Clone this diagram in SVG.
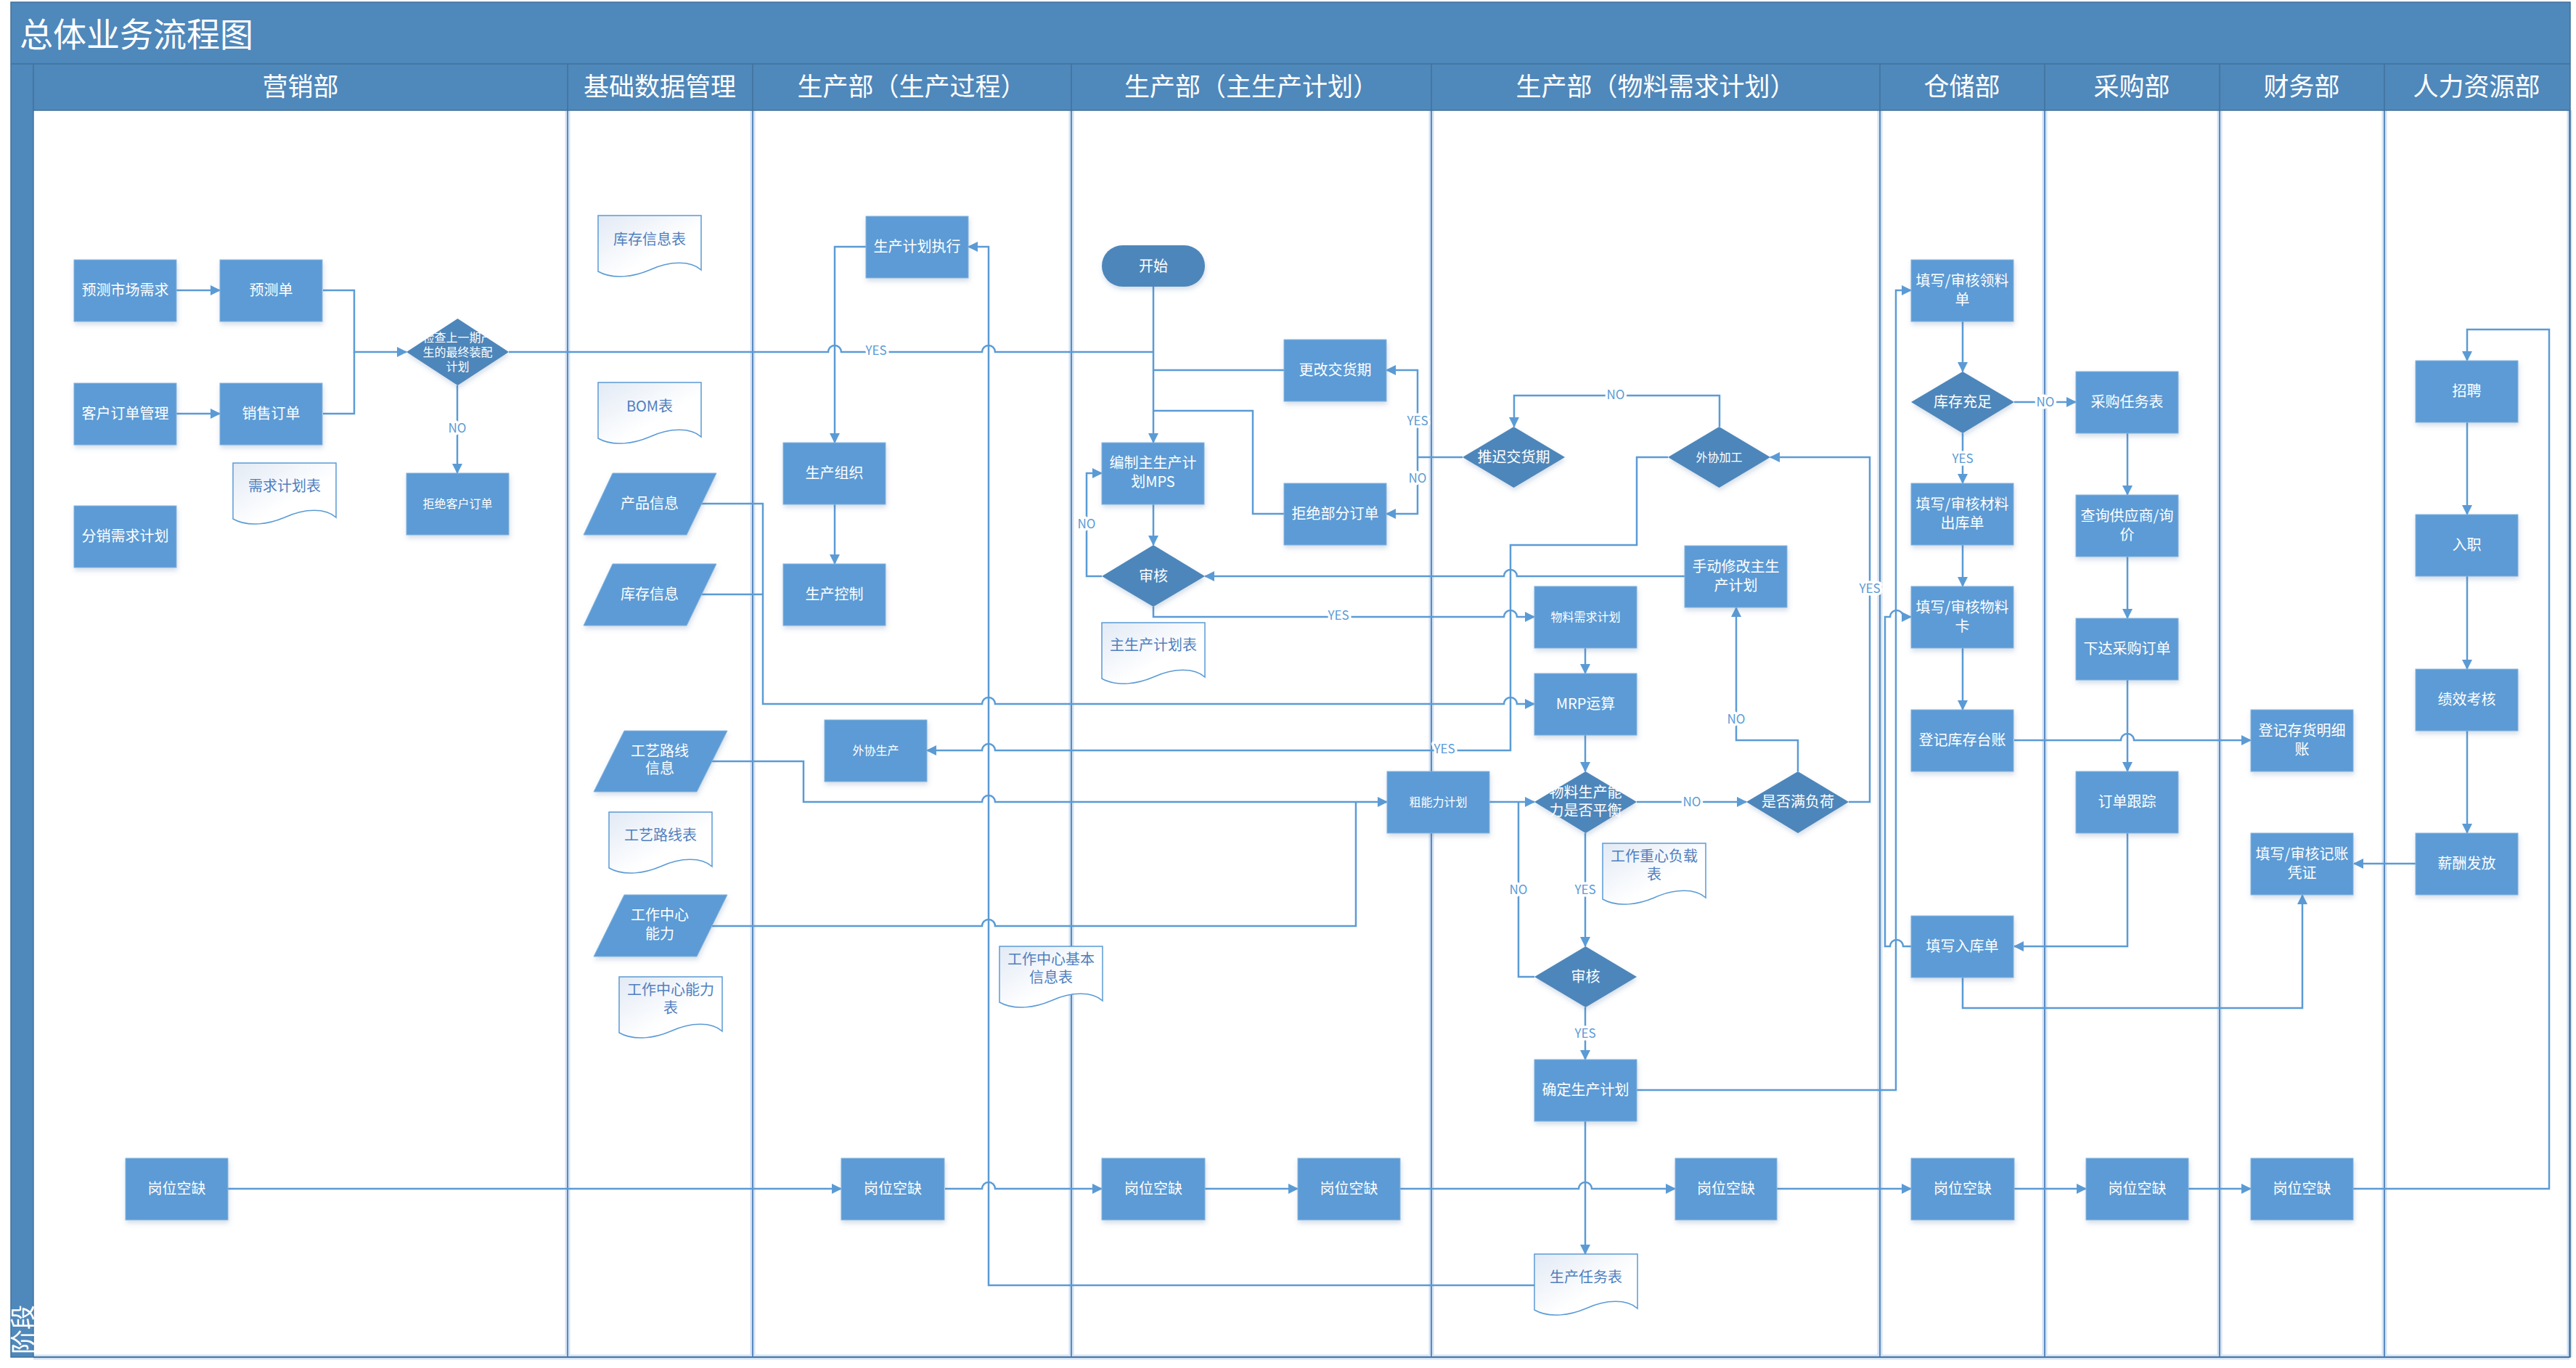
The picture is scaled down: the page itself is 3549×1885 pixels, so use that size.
<svg xmlns="http://www.w3.org/2000/svg" width="3549" height="1885" viewBox="0 0 3549 1885">
<defs>
<marker id="ah" markerUnits="userSpaceOnUse" markerWidth="14" markerHeight="14" refX="13" refY="7" orient="auto"><path d="M0,0 L14,7 L0,14 Z" fill="#5b9bd5"/></marker>
<linearGradient id="dg" x1="0" y1="0" x2="1" y2="1"><stop offset="0" stop-color="#e2eaf5"/><stop offset="0.6" stop-color="#ffffff"/></linearGradient>
<filter id="sh" x="-10%" y="-10%" width="130%" height="140%"><feDropShadow dx="1" dy="4" stdDeviation="3" flood-color="#3d6a9a" flood-opacity="0.22"/></filter>
</defs>
<style>
.n{fill:#5b9bd5;stroke:#86b3de;stroke-width:1;filter:url(#sh)}
.d{fill:#4e86ba;filter:url(#sh)}
.doc{fill:url(#dg);stroke:#5b9bd5;stroke-width:1.5}
.t{font-family:"Noto Sans CJK SC","Noto Sans",sans-serif;font-size:20px;fill:#ffffff;text-anchor:middle}
.s{font-size:16px}
.dt{font-family:"Noto Sans CJK SC","Noto Sans",sans-serif;font-size:20px;fill:#4f7fbf;text-anchor:middle}
.c{fill:none;stroke:#5b9bd5;stroke-width:2.5}
.ca{marker-end:url(#ah)}
.l{font-family:"Noto Sans CJK SC","Noto Sans",sans-serif;font-size:17px;fill:#5b9bd5;text-anchor:middle;stroke:#ffffff;stroke-width:7;paint-order:stroke;stroke-linejoin:round}
.band{fill:#4f88bb}
.hl{stroke:#41719c;stroke-width:1.5;fill:none}
.lane{stroke:#5a8ac2;stroke-width:2;fill:none}
.glow{stroke:#d3e2f2;stroke-width:7;fill:none}
.hd{font-family:"Noto Sans CJK SC","Noto Sans",sans-serif;font-size:35px;fill:#ffffff;text-anchor:middle}
</style>
<rect x="0" y="0" width="3549" height="1885" fill="#ffffff"/>
<g id="swimlanes">
<rect class="band" x="15" y="3" width="3526" height="85"/>
<rect class="band" x="15" y="88" width="3526" height="64"/>
<rect class="band" x="15" y="152" width="31" height="1718"/>
<g class="glow">
<path d="M782,152 V1870 M1037,152 V1870 M1476,152 V1870 M1972,152 V1870 M2590,152 V1870 M2817,152 V1870 M3058,152 V1870 M3285,152 V1870 M3540,152 V1870 M46,1870 H3540"/>
</g>
<g class="lane">
<path d="M782,152 V1870 M1037,152 V1870 M1476,152 V1870 M1972,152 V1870 M2590,152 V1870 M2817,152 V1870 M3058,152 V1870 M3285,152 V1870 M3540,152 V1870 M46,1870 H3540"/>
</g>
<g class="hl">
<rect x="15" y="3" width="3526" height="1867"/>
<path d="M15,88 H3541 M46,152 H3541 M46,88 V1870 M782,88 V152 M1037,88 V152 M1476,88 V152 M1972,88 V152 M2590,88 V152 M2817,88 V152 M3058,88 V152 M3285,88 V152"/>
</g>
<text x="27" y="64" font-family="Noto Sans CJK SC, Noto Sans, sans-serif" font-size="46" fill="#ffffff">总体业务流程图</text>
<text class="hd" x="414" y="132">营销部</text>
<text class="hd" x="909" y="132">基础数据管理</text>
<text class="hd" x="1256" y="132">生产部（生产过程）</text>
<text class="hd" x="1724" y="132">生产部（主生产计划）</text>
<text class="hd" x="2281" y="132">生产部（物料需求计划）</text>
<text class="hd" x="2703" y="132">仓储部</text>
<text class="hd" x="2937" y="132">采购部</text>
<text class="hd" x="3171" y="132">财务部</text>
<text class="hd" x="3412" y="132">人力资源部</text>
<text transform="translate(44,1866) rotate(-90)" font-family="Noto Sans CJK SC, Noto Sans, sans-serif" font-size="34" fill="#ffffff">阶段</text>
</g>
<g id="connectors">
<path class="c ca" d="M243,400 H303"/>
<path class="c ca" d="M243,570 H303"/>
<path class="c ca" d="M445,400 H488 V485 H560"/>
<path class="c" d="M445,570 H488 V485"/>
<path class="c ca" d="M630,531 V652"/>
<path class="c" d="M701,485 H1141 A9,9 0 0 1 1159,485 H1353 A9,9 0 0 1 1371,485 H1589"/>
<path class="c ca" d="M1589,395 V610"/>
<path class="c" d="M1769,510 H1589"/>
<path class="c" d="M1769,708 H1726 V566 H1589"/>
<path class="c" d="M2015,630 H1953"/>
<path class="c ca" d="M1953,630 V510 H1910"/>
<path class="c ca" d="M1953,630 V708 H1910"/>
<path class="c ca" d="M1589,695 V751"/>
<path class="c ca" d="M1518,794 H1497 V652 H1518"/>
<path class="c ca" d="M2321,794 H2090 A9,9 0 0 0 2072,794 H1660"/>
<path class="c ca" d="M1589,836 V850 H2072 A9,9 0 0 1 2090,850 H2114"/>
<path class="c ca" d="M1193,340 H1150 V610"/>
<path class="c ca" d="M1150,695 V777"/>
<path class="c ca" d="M2114,1771 H1362 V340 H1334"/>
<path class="c ca" d="M966,694 H1051 V970 H1353 A9,9 0 0 1 1371,970 H2072 A9,9 0 0 1 2090,970 H2114"/>
<path class="c" d="M966,819 H1051"/>
<path class="c ca" d="M980,1049 H1107 V1105 H1353 A9,9 0 0 1 1371,1105 H1911"/>
<path class="c" d="M980,1276 H1353 A9,9 0 0 1 1371,1276 H1868 V1105"/>
<path class="c ca" d="M2298,630 H2255 V751 H2081 V1034 H1371 A9,9 0 0 0 1353,1034 H1277"/>
<path class="c ca" d="M2369,588 V545 H2086 V588"/>
<path class="c ca" d="M2184,893 V928"/>
<path class="c ca" d="M2184,1013 V1063"/>
<path class="c ca" d="M2052,1105 H2114"/>
<path class="c" d="M2114,1346 H2092 V1105"/>
<path class="c ca" d="M2184,1148 V1304"/>
<path class="c ca" d="M2184,1388 V1460"/>
<path class="c ca" d="M2184,1545 V1728"/>
<path class="c ca" d="M2255,1502 H2612 V400 H2633"/>
<path class="c ca" d="M2255,1105 H2406"/>
<path class="c ca" d="M2477,1063 V1020 H2392 V837"/>
<path class="c ca" d="M2547,1105 H2576 V630 H2439"/>
<path class="c ca" d="M2704,443 V512"/>
<path class="c ca" d="M2775,554 H2860"/>
<path class="c ca" d="M2704,597 V666"/>
<path class="c ca" d="M2704,751 V808"/>
<path class="c ca" d="M2704,893 V978"/>
<path class="c ca" d="M2633,1304 H2622 A9,9 0 0 0 2604,1304 H2597 V850 H2604 A9,9 0 0 1 2622,850 H2633"/>
<path class="c ca" d="M2775,1020 H2922 A9,9 0 0 1 2940,1020 H3101"/>
<path class="c ca" d="M2931,597 V682"/>
<path class="c ca" d="M2931,767 V852"/>
<path class="c ca" d="M2931,937 V1063"/>
<path class="c ca" d="M2931,1148 V1304 H2775"/>
<path class="c ca" d="M2704,1347 V1389 H3172 V1233"/>
<path class="c ca" d="M3399,582 V709"/>
<path class="c ca" d="M3399,794 V922"/>
<path class="c ca" d="M3399,1007 V1148"/>
<path class="c ca" d="M3328,1190 H3243"/>
<path class="c ca" d="M314,1638 H1159"/>
<path class="c ca" d="M1302,1638 H1353 A9,9 0 0 1 1371,1638 H1518"/>
<path class="c ca" d="M1660,1638 H1788"/>
<path class="c ca" d="M1929,1638 H2175 A9,9 0 0 1 2193,1638 H2308"/>
<path class="c ca" d="M2448,1638 H2633"/>
<path class="c ca" d="M2775,1638 H2874"/>
<path class="c ca" d="M3015,1638 H3101"/>
<path class="c ca" d="M3242,1638 H3512 V454 H3399 V497"/>
<text class="l" x="630" y="596" font-size="14">NO</text>
<text class="l" x="1207" y="489" font-size="12">YES</text>
<text class="l" x="1953" y="586">YES</text>
<text class="l" x="1953" y="665">NO</text>
<text class="l" x="1497" y="728">NO</text>
<text class="l" x="1844" y="854" font-size="12">YES</text>
<text class="l" x="1990" y="1038" font-size="12">YES</text>
<text class="l" x="2226" y="550" font-size="13">NO</text>
<text class="l" x="2092" y="1232">NO</text>
<text class="l" x="2184" y="1232">YES</text>
<text class="l" x="2184" y="1430">YES</text>
<text class="l" x="2331" y="1111">NO</text>
<text class="l" x="2392" y="997">NO</text>
<text class="l" x="2576" y="817" font-size="12">YES</text>
<text class="l" x="2818" y="560">NO</text>
<text class="l" x="2704" y="638">YES</text>
</g>
<g id="n-yc-sc"><rect class="n" x="102" y="358" width="141" height="85"/><text class="t" x="172.5" y="407">预测市场需求</text></g>
<g id="n-ycd"><rect class="n" x="303" y="358" width="141" height="85"/><text class="t" x="373.5" y="407">预测单</text></g>
<g id="n-khdd"><rect class="n" x="102" y="528" width="141" height="85"/><text class="t" x="172.5" y="577">客户订单管理</text></g>
<g id="n-xsdd"><rect class="n" x="303" y="528" width="141" height="85"/><text class="t" x="373.5" y="577">销售订单</text></g>
<g id="n-fxxq"><rect class="n" x="102" y="697" width="141" height="85"/><text class="t" x="172.5" y="746">分销需求计划</text></g>
<g id="n-jcsq"><path class="d" d="M630.5,439 L701,485 L630.5,531 L560,485 Z"/><text class="t s"><tspan x="630.5" y="471">检查上一期产</tspan><tspan x="630.5" y="491">生的最终装配</tspan><tspan x="630.5" y="511">计划</tspan></text></g>
<g id="n-jjkh"><rect class="n" x="560" y="652" width="141" height="85"/><text class="t s" x="630.5" y="700">拒绝客户订单</text></g>
<g id="n-xqjhb"><path class="doc" transform="translate(321,638)" d="M0,0 H142 V75 C128,62 99,62 71,75 C50,84 21,89 0,77 Z"/><text class="dt" x="392" y="677">需求计划表</text></g>
<g id="n-kcxxb"><path class="doc" transform="translate(824,297)" d="M0,0 H142 V75 C128,62 99,62 71,75 C50,84 21,89 0,77 Z"/><text class="dt" x="895" y="337">库存信息表</text></g>
<g id="n-bom"><path class="doc" transform="translate(824,527)" d="M0,0 H142 V75 C128,62 99,62 71,75 C50,84 21,89 0,77 Z"/><text class="dt" x="895" y="567">BOM表</text></g>
<g id="n-cpxx"><polygon class="n" points="844,652 987,652 946,737 804,737"/><text class="t" x="895" y="701">产品信息</text></g>
<g id="n-kcxx"><polygon class="n" points="844,777 987,777 946,862 804,862"/><text class="t" x="895" y="826">库存信息</text></g>
<g id="n-gylxxx"><polygon class="n" points="860,1007 1002,1007 960,1091 818,1091"/><text class="t"><tspan x="909" y="1042">工艺路线</tspan><tspan x="909" y="1066">信息</tspan></text></g>
<g id="n-gylxb"><path class="doc" transform="translate(839,1119)" d="M0,0 H142 V75 C128,62 99,62 71,75 C50,84 21,89 0,77 Z"/><text class="dt" x="910" y="1158">工艺路线表</text></g>
<g id="n-gzzxnl"><polygon class="n" points="860,1233 1002,1233 960,1318 818,1318"/><text class="t"><tspan x="909" y="1268">工作中心</tspan><tspan x="909" y="1294">能力</tspan></text></g>
<g id="n-gzzxnlb"><path class="doc" transform="translate(853,1346)" d="M0,0 H142 V75 C128,62 99,62 71,75 C50,84 21,89 0,77 Z"/><text class="dt"><tspan x="924" y="1371">工作中心能力</tspan><tspan x="924" y="1396">表</tspan></text></g>
<g id="n-scjhzx"><rect class="n" x="1193" y="298" width="141" height="85"/><text class="t" x="1263.5" y="347">生产计划执行</text></g>
<g id="n-sczz"><rect class="n" x="1079" y="610" width="141" height="85"/><text class="t" x="1149.5" y="659">生产组织</text></g>
<g id="n-sckz"><rect class="n" x="1079" y="777" width="141" height="85"/><text class="t" x="1149.5" y="826">生产控制</text></g>
<g id="n-wxsc"><rect class="n" x="1136" y="992" width="141" height="85"/><text class="t s" x="1206.5" y="1040">外协生产</text></g>
<g id="n-gzzxjb"><path class="doc" transform="translate(1377,1304)" d="M0,0 H142 V75 C128,62 99,62 71,75 C50,84 21,89 0,77 Z"/><text class="dt"><tspan x="1448" y="1329">工作中心基本</tspan><tspan x="1448" y="1354">信息表</tspan></text></g>
<g id="n-start"><rect class="d" x="1518" y="338" width="142" height="57" rx="28.5"/><text class="t" x="1589" y="374">开始</text></g>
<g id="n-mps"><rect class="n" x="1518" y="610" width="141" height="85"/><text class="t"><tspan x="1588.5" y="645">编制主生产计</tspan><tspan x="1588.5" y="671">划MPS</tspan></text></g>
<g id="n-sh1"><path class="d" d="M1589,751 L1660,794 L1589,836 L1518,794 Z"/><text class="t" x="1589" y="801">审核</text></g>
<g id="n-zscjhb"><path class="doc" transform="translate(1518,858)" d="M0,0 H142 V75 C128,62 99,62 71,75 C50,84 21,89 0,77 Z"/><text class="dt s" x="1589" y="896">主生产计划表</text></g>
<g id="n-ggjhq"><rect class="n" x="1769" y="468" width="141" height="85"/><text class="t" x="1839.5" y="517">更改交货期</text></g>
<g id="n-jjbf"><rect class="n" x="1769" y="666" width="141" height="85"/><text class="t" x="1839.5" y="715">拒绝部分订单</text></g>
<g id="n-cnl"><rect class="n" x="1911" y="1063" width="141" height="85"/><text class="t s" x="1981.5" y="1111">粗能力计划</text></g>
<g id="n-tcjhq"><path class="d" d="M2085.5,588 L2156,630 L2085.5,672 L2015,630 Z"/><text class="t" x="2085.5" y="637">推迟交货期</text></g>
<g id="n-wxjg"><path class="d" d="M2368.5,588 L2439,630 L2368.5,672 L2298,630 Z"/><text class="t s" x="2368.5" y="636">外协加工</text></g>
<g id="n-sdxg"><rect class="n" x="2321" y="752" width="141" height="85"/><text class="t"><tspan x="2391.5" y="788">手动修改主生</tspan><tspan x="2391.5" y="814">产计划</tspan></text></g>
<g id="n-wlxq"><rect class="n" x="2114" y="808" width="141" height="85"/><text class="t s" x="2184.5" y="856">物料需求计划</text></g>
<g id="n-mrp"><rect class="n" x="2114" y="928" width="141" height="85"/><text class="t" x="2184.5" y="977">MRP运算</text></g>
<g id="n-wlscnl"><path class="d" d="M2184.5,1063 L2255,1105 L2184.5,1148 L2114,1105 Z"/><text class="t"><tspan x="2184.5" y="1099">物料生产能</tspan><tspan x="2184.5" y="1124">力是否平衡</tspan></text></g>
<g id="n-sfmfh"><path class="d" d="M2477,1063 L2547,1105 L2477,1148 L2406,1105 Z"/><text class="t" x="2477" y="1112">是否满负荷</text></g>
<g id="n-gzzxfz"><path class="doc" transform="translate(2208,1162)" d="M0,0 H142 V75 C128,62 99,62 71,75 C50,84 21,89 0,77 Z"/><text class="dt"><tspan x="2279" y="1187">工作重心负载</tspan><tspan x="2279" y="1212">表</tspan></text></g>
<g id="n-sh2"><path class="d" d="M2184.5,1304 L2255,1346 L2184.5,1388 L2114,1346 Z"/><text class="t" x="2184.5" y="1353">审核</text></g>
<g id="n-qdscjh"><rect class="n" x="2114" y="1460" width="141" height="85"/><text class="t" x="2184.5" y="1509">确定生产计划</text></g>
<g id="n-scrwb"><path class="doc" transform="translate(2114,1728)" d="M0,0 H142 V75 C128,62 99,62 71,75 C50,84 21,89 0,77 Z"/><text class="dt" x="2185" y="1767">生产任务表</text></g>
<g id="n-lld"><rect class="n" x="2633" y="358" width="141" height="85"/><text class="t"><tspan x="2703.5" y="394">填写/审核领料</tspan><tspan x="2703.5" y="420">单</tspan></text></g>
<g id="n-kccz"><path class="d" d="M2704,512 L2775,554 L2704,597 L2633,554 Z"/><text class="t" x="2704" y="561">库存充足</text></g>
<g id="n-ckd"><rect class="n" x="2633" y="666" width="141" height="85"/><text class="t"><tspan x="2703.5" y="702">填写/审核材料</tspan><tspan x="2703.5" y="728">出库单</tspan></text></g>
<g id="n-wlk"><rect class="n" x="2633" y="808" width="141" height="85"/><text class="t"><tspan x="2703.5" y="844">填写/审核物料</tspan><tspan x="2703.5" y="870">卡</tspan></text></g>
<g id="n-djkctz"><rect class="n" x="2633" y="978" width="141" height="85"/><text class="t" x="2703.5" y="1027">登记库存台账</text></g>
<g id="n-rkd"><rect class="n" x="2633" y="1262" width="141" height="85"/><text class="t" x="2703.5" y="1311">填写入库单</text></g>
<g id="n-cgrwb"><rect class="n" x="2860" y="512" width="141" height="85"/><text class="t" x="2930.5" y="561">采购任务表</text></g>
<g id="n-cxgys"><rect class="n" x="2860" y="682" width="141" height="85"/><text class="t"><tspan x="2930.5" y="718">查询供应商/询</tspan><tspan x="2930.5" y="744">价</tspan></text></g>
<g id="n-xdcg"><rect class="n" x="2860" y="852" width="141" height="85"/><text class="t" x="2930.5" y="901">下达采购订单</text></g>
<g id="n-ddgz"><rect class="n" x="2860" y="1063" width="141" height="85"/><text class="t" x="2930.5" y="1112">订单跟踪</text></g>
<g id="n-djchmx"><rect class="n" x="3101" y="978" width="141" height="85"/><text class="t"><tspan x="3171.5" y="1014">登记存货明细</tspan><tspan x="3171.5" y="1040">账</tspan></text></g>
<g id="n-jzpz"><rect class="n" x="3101" y="1148" width="141" height="85"/><text class="t"><tspan x="3171.5" y="1184">填写/审核记账</tspan><tspan x="3171.5" y="1210">凭证</tspan></text></g>
<g id="n-zp"><rect class="n" x="3328" y="497" width="141" height="85"/><text class="t" x="3398.5" y="546">招聘</text></g>
<g id="n-rz"><rect class="n" x="3328" y="709" width="141" height="85"/><text class="t" x="3398.5" y="758">入职</text></g>
<g id="n-jxkh"><rect class="n" x="3328" y="922" width="141" height="85"/><text class="t" x="3398.5" y="971">绩效考核</text></g>
<g id="n-xcff"><rect class="n" x="3328" y="1148" width="141" height="85"/><text class="t" x="3398.5" y="1197">薪酬发放</text></g>
<g id="n-gwkq1"><rect class="n" x="173" y="1596" width="141" height="85"/><text class="t" x="243.5" y="1645">岗位空缺</text></g>
<g id="n-gwkq2"><rect class="n" x="1159" y="1596" width="142" height="85"/><text class="t" x="1230" y="1645">岗位空缺</text></g>
<g id="n-gwkq3"><rect class="n" x="1518" y="1596" width="142" height="85"/><text class="t" x="1589" y="1645">岗位空缺</text></g>
<g id="n-gwkq4"><rect class="n" x="1788" y="1596" width="141" height="85"/><text class="t" x="1858.5" y="1645">岗位空缺</text></g>
<g id="n-gwkq5"><rect class="n" x="2308" y="1596" width="140" height="85"/><text class="t" x="2378" y="1645">岗位空缺</text></g>
<g id="n-gwkq6"><rect class="n" x="2633" y="1596" width="142" height="85"/><text class="t" x="2704" y="1645">岗位空缺</text></g>
<g id="n-gwkq7"><rect class="n" x="2874" y="1596" width="141" height="85"/><text class="t" x="2944.5" y="1645">岗位空缺</text></g>
<g id="n-gwkq8"><rect class="n" x="3101" y="1596" width="141" height="85"/><text class="t" x="3171.5" y="1645">岗位空缺</text></g>
</svg>
